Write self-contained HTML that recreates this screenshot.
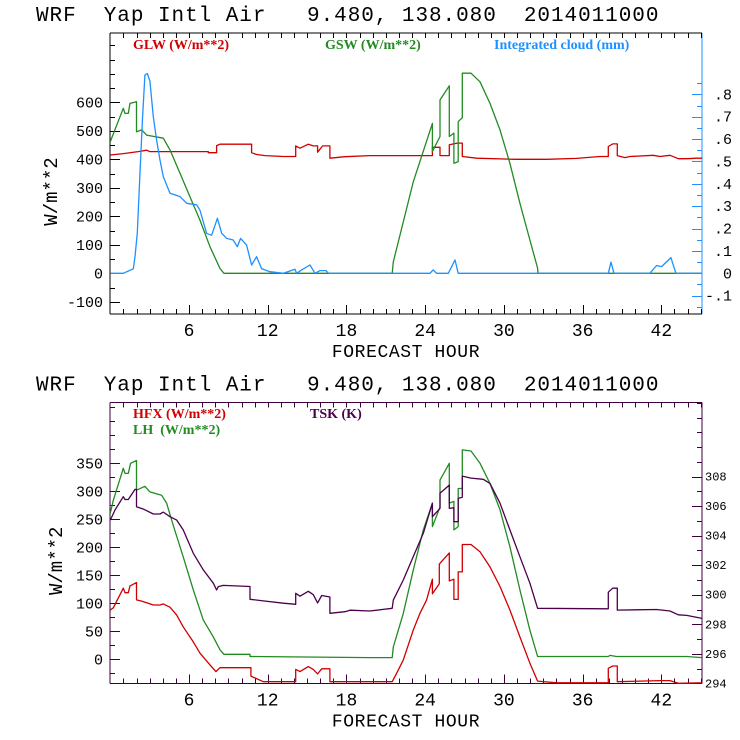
<!DOCTYPE html>
<html><head><meta charset="utf-8"><style>
html,body{margin:0;padding:0;background:#fff;}
svg{display:block;}
text{font-family:"Liberation Mono",monospace;white-space:pre;}
.ttl{font-size:21px;letter-spacing:0.95px;}
.tick{font-size:13px;}
.lg{font-family:"Liberation Serif",serif;font-size:14px;font-weight:bold;}
</style></head><body>
<svg id="c" width="740" height="740" viewBox="0 0 740 740" xmlns="http://www.w3.org/2000/svg" xml:space="preserve"></svg>
<script>
// ---------------- DATA ----------------
const xTickHours = [6, 12, 18, 24, 30, 36, 42];
const topLeftTicks = [-100, 0, 100, 200, 300, 400, 500, 600];
const topRightTicks = [-0.1, 0, 0.1, 0.2, 0.3, 0.4, 0.5, 0.6, 0.7, 0.8];
const topRightLabels = ["-.1", "0", ".1", ".2", ".3", ".4", ".5", ".6", ".7", ".8"];
const botLeftTicks = [0, 50, 100, 150, 200, 250, 300, 350];
const botRightTicks = [294, 296, 298, 300, 302, 304, 306, 308];

const gswHours = [0,0.99,1.12,1.37,1.5,2.0,2.0,2.39,2.77,4.04,4.55,5.31,6.07,6.83,7.6,8.36,8.66,21.49,21.57,23.09,24.55,24.55,25.13,25.13,25.84,25.84,26.19,26.19,26.52,26.52,26.83,26.83,27.49,28.18,28.94,29.7,30.46,31.22,31.98,32.57,32.6,45.1];
const gswVals  = [462,579,561,561,596,602,497,503,485,474,433,351,269,187,93,17,0,0,40,320,526,427,480,608,658,480,492,386,392,532,546,702,702,672,596,503,386,246,117,18,0,0];

const glwHours = [0,0.99,2.13,2.77,3.02,7.47,7.47,8.1,8.1,8.36,10.77,10.77,11.15,11.79,13.19,14.13,14.13,14.46,15.09,15.47,15.8,15.8,16.18,16.74,16.74,17.89,19.79,24.55,24.55,25.13,25.13,25.84,25.84,26.45,26.83,26.83,27.92,30.84,33.0,33.26,35.54,37.32,37.96,37.96,38.29,38.64,38.64,39.22,39.6,41.38,41.89,42.66,43.29,43.93,44.69,45.1];
const glwVals  = [415,420,427,432,427,427,423,423,448,453,453,423,417,413,410,410,447,439,453,447,447,425,447,447,404,409,413,413,442,442,413,413,451,457,457,410,404,400,400,400,403,410,410,445,454,454,413,406,410,414,410,414,402,402,404,404];

const cloudHours = [0,0.99,1.75,1.88,2.06,2.26,2.46,2.64,2.82,3.02,3.28,3.53,3.79,4.04,4.55,5.31,5.82,6.58,6.83,7.34,7.72,8.16,8.49,8.87,9.37,9.68,9.93,10.39,10.77,11.15,11.53,12.17,13.19,14.08,14.2,14.58,15.22,15.6,15.98,16.44,16.62,24.37,24.6,24.87,25.76,26.27,26.52,37.96,38.16,38.39,41.13,41.64,42.02,42.73,43.11,45.1];
const cloudVals  = [0,0,0.02,0.074,0.18,0.45,0.70,0.886,0.893,0.86,0.70,0.596,0.506,0.432,0.358,0.343,0.313,0.306,0.283,0.179,0.17,0.246,0.179,0.156,0.149,0.119,0.156,0.126,0.037,0.074,0.02,0.007,0,0.018,0,0.015,0.037,0,0.012,0.012,0,0,0.015,0,0,0.06,0,0,0.05,0,0,0.035,0.03,0.07,0,0];

const lhHours = [0,0.23,0.99,1.12,1.37,1.55,2.0,2.0,2.64,3.02,3.91,4.29,4.8,5.56,6.33,7.09,7.85,8.36,8.66,10.65,10.65,19.79,21.49,21.57,22.33,23.09,23.86,24.55,24.55,25.13,25.13,25.84,25.84,26.19,26.19,26.52,26.52,26.83,26.83,27.49,28.18,28.94,29.7,30.46,31.22,31.98,32.57,37.96,38.08,38.59,43.93,45.1];
const lhVals  = [261,284,341,332,332,350,355,302,309,299,293,279,239,183,124,70,40,17,9,9,5,3,3,22,82,159,231,279,237,272,320,350,279,282,231,237,305,305,374,372,350,314,267,201,124,52,5,5,7,5,5,3];

const hfxHours = [0,0.23,0.99,1.12,1.37,1.5,2.0,2.0,2.39,2.77,3.28,3.79,4.04,4.55,5.06,5.56,6.33,6.83,7.6,8.05,8.36,10.72,10.72,11.66,14.13,14.13,14.46,15.09,15.47,15.8,16.11,16.74,16.74,19.79,21.49,21.82,22.33,23.09,23.6,24.11,24.55,24.55,25.08,25.08,25.84,25.84,26.19,26.19,26.52,26.52,26.83,26.83,27.49,28.18,28.94,29.7,30.46,31.22,31.98,32.57,34.02,37.96,37.96,38.29,38.64,38.64,41.89,42.66,43.29,45.1];
const hfxVals  = [88,92,127,119,119,131,137,106,104,101,97,97,99,93,79,58,31,11,-10,-22,-15,-15,-30,-40,-40,-18,-22,-13,-18,-26,-17,-17,-40,-40,-40,-25,-1,52,82,106,143,117,135,170,190,140,143,107,107,156,156,205,205,192,165,130,88,40,-7,-39,-42,-42,-16,-12,-12,-40,-38,-38,-43,-42];

const tskHours = [0,0.36,0.99,1.12,1.37,1.88,2.0,2.0,2.52,3.28,3.79,4.04,4.55,5.06,5.56,6.33,7.09,7.85,8.1,8.23,8.61,10.65,10.65,11.66,13.19,14.13,14.13,14.46,15.09,15.47,15.8,16.11,16.74,16.74,17.89,18.27,19.79,21.49,21.57,22.33,23.09,23.86,24.55,24.55,25.13,25.13,25.84,25.84,26.19,26.19,26.52,26.52,26.83,26.83,27.49,28.43,28.94,29.7,30.46,31.22,31.98,32.57,37.96,37.96,38.29,38.64,38.64,41.64,42.66,43.29,43.93,45.1];
const tskVals  = [305.06,305.74,306.64,306.45,306.45,307.14,307.14,305.96,305.8,305.47,305.47,305.6,305.29,305.06,304.39,302.81,301.68,300.78,300.32,300.55,300.63,300.56,299.69,299.58,299.43,299.35,300.1,299.9,300.23,300.0,299.45,299.95,299.85,298.74,298.85,298.95,298.9,299.08,299.64,301.0,302.58,304.16,306.2,305.29,305.85,306.87,307.43,305.85,305.9,304.95,304.95,306.53,306.6,308.04,307.9,307.82,307.54,306.2,304.39,302.58,300.78,299.08,299.05,300.17,300.44,300.44,298.96,299.0,298.9,298.64,298.6,298.4];

// ---------------- LAYOUT ----------------
const NS = "http://www.w3.org/2000/svg";
const svg = document.getElementById('c');
const X0 = 110.3, PXH = 13.12, XL = 110, XR = 702;
const xs = h => X0 + h * PXH;
const T = {top: 33, bot: 314, y0: 273.3, k: 0.285, rk: 223.7};
const B = {top: 402.3, bot: 683.3, y0: 659.3, k: 0.56, r0: 294, rk: 14.76};
const yTopL = v => T.y0 - v * T.k;
const yTopR = v => T.y0 - v * T.rk;
const yBotL = v => B.y0 - v * B.k;
const yBotR = v => B.bot - (v - B.r0) * B.rk;

function el(tag, attrs, parent) {
  const e = document.createElementNS(NS, tag);
  for (const k in attrs) e.setAttribute(k, attrs[k]);
  (parent || svg).appendChild(e);
  return e;
}
function txt(s, x, y, cls, fill, anchor, parent) {
  const t = el('text', {x: x, y: y, class: cls, fill: fill, 'text-anchor': anchor || 'start'}, parent);
  t.textContent = s;
  return t;
}
function line(x1, y1, x2, y2, c, parent) {
  return el('line', {x1: x1, y1: y1, x2: x2, y2: y2, stroke: c, 'stroke-width': 1, 'shape-rendering': 'crispEdges'}, parent);
}
function series(hours, vals, yf, color, name, top, bot) {
  const pts = hours.map((h, i) => xs(h).toFixed(1) + ',' + Math.max(top, Math.min(bot, yf(vals[i]))).toFixed(1)).join(' ');
  const p = el('polyline', {points: pts, fill: 'none', stroke: color, 'stroke-width': 1.3, 'stroke-linejoin': 'round'});
  
  
  return p;
}

function panel(P, frameColor, rightColor, yL, yR, leftTicks, leftMinor, rightTicks, rightLabels, rightMinor, name) {
  const g = el('g', {});
  
  
  const tt = txt('WRF  Yap Intl Air   9.480, 138.080  2014011000', 36, P.top - 12, 'ttl', '#000', 'start', g);
  
  // frame
  line(XL, P.top, XR, P.top, frameColor, g);
  line(XL, P.bot, XR, P.bot, frameColor, g);
  line(XL, P.top, XL, P.bot, frameColor, g);
  line(XR, P.top, XR, P.bot, rightColor, g);
  // x ticks
  for (let h = 1; h <= 45; h++) {
    const x = Math.round(xs(h)) + 0.5, major = h % 6 === 0;
    line(x, P.bot, x, P.bot - (major ? 9 : 5), frameColor, g);
    line(x, P.top, x, P.top + 5, frameColor, g);
  }
  xTickHours.forEach(h => {
    const t = txt(String(h), xs(h), P.bot + 22, 'tick', '#000', 'middle', g);
    t.setAttribute('style', 'font-size:18px');
    
  });
  const xt = txt('FORECAST HOUR', 406, P.bot + 43, 'tick', '#000', 'middle', g);
  xt.setAttribute('style', 'font-size:18px;letter-spacing:0.6px');
  
  // left ticks
  for (let v = leftMinor[0]; v <= leftMinor[1]; v += leftMinor[2]) {
    const y = yL(v); if (y < P.top || y > P.bot) continue;
    const major = leftTicks.indexOf(v) >= 0;
    line(XL, Math.round(y) + 0.5, XL + (major ? 10 : 5), Math.round(y) + 0.5, frameColor, g);
  }
  leftTicks.forEach(v => {
    const t = txt(String(v), 103, yL(v) + 5, 'tick', '#000', 'end', g);
    t.setAttribute('style', 'font-size:15px');
    
  });
  const yt = txt('W/m**2', 0, 0, 'tick', '#000', 'middle', g);
  yt.setAttribute('style', 'font-size:19px');
  yt.setAttribute('transform', 'translate(' + (name === 'top-panel' ? 57 : 62) + ',' + ((P.top + P.bot) / 2 + 18) + ') rotate(-90)');
  
  // right ticks
  for (let v = rightMinor[0]; v <= rightMinor[1] + 1e-9; v += rightMinor[2]) {
    const y = yR(v); if (y < P.top - 0.5 || y > P.bot + 0.5) continue;
    const major = rightTicks.some(r => Math.abs(r - v) < 1e-6);
    line(XR - (major ? 10 : 5), Math.round(y) + 0.5, XR, Math.round(y) + 0.5, rightColor, g);
  }
  rightTicks.forEach((v, i) => {
    let t;
    if (name === 'top-panel') {
      t = txt(rightLabels[i], 732, yR(v) + 5, 'tick', '#000', 'end', g);
      t.setAttribute('style', 'font-size:15px');
    } else {
      t = txt(rightLabels[i], 705, yR(v) + 4, 'tick', '#000', 'start', g);
      t.setAttribute('style', 'font-size:12px');
    }
    
  });
}

panel(T, '#000', '#1e90ff', yTopL, yTopR, topLeftTicks, [-150, 850, 50], topRightTicks, topRightLabels, [-0.15, 0.85, 0.05], 'top-panel');
panel(B, '#3c003c', '#3c003c', yBotL, yBotR, botLeftTicks, [-25, 450, 25], botRightTicks, botRightTicks.map(String), [294, 313, 1], 'bottom-panel');

// legends
let t;
t = txt('GLW (W/m**2)', 133, 49, 'lg', '#d00000');  
t = txt('GSW (W/m**2)', 325, 49, 'lg', '#228b22');  
t = txt('Integrated cloud (mm)', 494, 49, 'lg', '#1e90ff');  
t = txt('HFX (W/m**2)', 133, 418, 'lg', '#d00000');  
t = txt('LH  (W/m**2)', 133, 434, 'lg', '#228b22');  
t = txt('TSK (K)', 310, 418, 'lg', '#4b004b');  

// series
series(glwHours, glwVals, yTopL, '#d00000', 'glw-line', T.top, T.bot);
series(gswHours, gswVals, yTopL, '#228b22', 'gsw-line', T.top, T.bot);
series(cloudHours, cloudVals, yTopR, '#1e90ff', 'cloud-line', T.top, T.bot);
series(lhHours, lhVals, yBotL, '#228b22', 'lh-line', B.top, B.bot);
series(tskHours, tskVals, yBotR, '#4b004b', 'tsk-line', B.top, B.bot);
series(hfxHours, hfxVals, yBotL, '#d00000', 'hfx-line', B.top, B.bot);
</script>
</body></html>
